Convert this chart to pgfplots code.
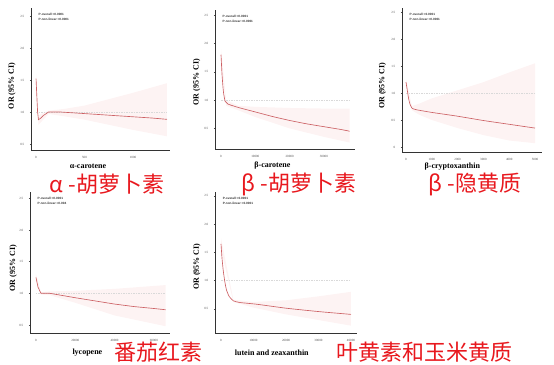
\documentclass[border=0pt]{standalone}
\usepackage{pgfplots}
\pgfplotsset{compat=1.18}
\usepackage{fontspec}
\setmainfont{Liberation Serif}
\newfontfamily\cjk{Noto Sans CJK SC}
\newfontfamily\psans{Liberation Sans}
\definecolor{curve}{RGB}{204,96,100}
\definecolor{band}{RGB}{253,243,243}
\definecolor{redlab}{RGB}{232,24,30}
\pgfplotsset{
 rcs/.style={
  scale only axis,
  axis lines=left,
  axis line style={-, draw=black!80, line width=0.35pt},
  tick align=outside,
  major tick length=1.2pt,
  tick style={draw=black!70, line width=0.3pt},
  tick label style={font=\fontsize{3.2}{3.6}\selectfont, text=black!70},
  /pgf/number format/assume math mode=true,
  scaled x ticks=false, scaled y ticks=false,
  ytick={0.5,1,1.5,2,2.5},
  yticklabels={0.5,1.0,1.5,2.0,2.5},
  yticklabel style={xshift=-2pt},
  xticklabel style={yshift=-1.5pt},
  label style={font=\fontsize{8}{9}\selectfont\bfseries},
  ylabel={OR (95\% CI)},
 },
 ciband/.style={draw=none, fill=band},
 rcsline/.style={curve, line width=0.65pt, smooth, tension=0.35},
 refline/.style={black!15, dash pattern=on 1.5pt off 1pt, line width=0.3pt},
}
\tikzset{pnode/.style={anchor=north west, font=\psans\bfseries\fontsize{3.1}{4.4}\selectfont, align=left, text=black!80}}
\begin{document}
\begin{tikzpicture}
\useasboundingbox (0pt,0pt) rectangle (554pt,364pt);
% ---------- panel 1: alpha-carotene
\begin{axis}[rcs, at={(31pt,214pt)}, anchor=south west, width=139pt, height=142pt,
  xmin=-52, xmax=1381, ymin=0.406, ymax=2.625,
  xtick={0,500,1000}, xticklabels={0,500,1000},
  xlabel={α-carotene},
  ylabel style={at={(axis description cs:-0.137,0.45)}, anchor=center},
  xlabel style={at={(axis description cs:0.41,-0.113)}, anchor=center}]
\addplot[ciband] coordinates {(0,1.6)(25,0.95)(130,1.02)(300,1.05)(500,1.1)(750,1.2)(1000,1.3)(1350,1.45)
 (1350,0.62)(1000,0.72)(750,0.8)(500,0.88)(300,0.93)(130,0.97)(25,0.8)(0,1.45)} -- cycle;
\addplot[refline] coordinates {(0,1)(1350,1)};
\addplot[curve, line width=0.65pt] coordinates {(0,1.52)(8,1.25)(16,1.0)(25,0.88)(45,0.9)(80,0.95)(130,1.0)(250,1.0)(500,0.975)(750,0.95)(1000,0.925)(1200,0.905)(1350,0.885)};
\node[pnode] at (rel axis cs:0.03,0.985) {P-overall <0.0001\\P-non-linear <0.0001};
\end{axis}
% ---------- panel 2: beta-carotene
\begin{axis}[rcs, at={(215pt,215pt)}, anchor=south west, width=140pt, height=139pt,
  xmin=-1750, xmax=39070, ymin=0.136, ymax=2.59,
  xtick={0,10000,20000,30000}, xticklabels={0,10000,20000,30000},
  xlabel={β-carotene},
  ylabel style={at={(axis description cs:-0.13,0.48)}, anchor=center},
  xlabel style={at={(axis description cs:0.41,-0.122)}, anchor=center}]
\addplot[ciband] coordinates {(0,1.9)(1500,1.0)(5000,0.9)(10000,0.88)(20000,0.86)(30000,0.85)(37500,0.85)
 (37500,0.25)(30000,0.35)(20000,0.5)(10000,0.7)(5000,0.82)(1500,0.9)(0,1.7)} -- cycle;
\addplot[refline] coordinates {(0,1)(37500,1)};
\addplot[rcsline] coordinates {(0,1.8)(300,1.45)(700,1.15)(1200,0.98)(2000,0.93)(5000,0.87)(10000,0.79)(15000,0.71)(20000,0.64)(25000,0.58)(30000,0.53)(35000,0.48)(37500,0.45)};
\node[pnode] at (rel axis cs:0.03,0.985) {P-overall <0.0001\\P-non-linear <0.0001};
\end{axis}
% ---------- panel 3: beta-cryptoxanthin
\begin{axis}[rcs, at={(402pt,212pt)}, anchor=south west, width=140pt, height=144pt,
  xmin=-155, xmax=5271, ymin=-0.093, ymax=2.574,
  ytick={0,0.5,1,1.5,2,2.5}, yticklabels={0,0.5,1.0,1.5,2.0,2.5},
  xtick={0,1000,2000,3000,4000,5000}, xticklabels={0,1000,2000,3000,4000,5000},
  xlabel={β-cryptoxanthin},
  ylabel style={at={(axis description cs:-0.14,0.46)}, anchor=center},
  xlabel style={at={(axis description cs:0.36,-0.1)}, anchor=center}]
\addplot[ciband] coordinates {(0,1.25)(230,0.76)(500,0.8)(1000,0.9)(2000,1.05)(3000,1.2)(4000,1.38)(5000,1.55)
 (5000,0.07)(4000,0.12)(3000,0.22)(2000,0.35)(1000,0.5)(500,0.6)(230,0.68)(0,1.15)} -- cycle;
\addplot[refline] coordinates {(0,1)(5000,1)};
\addplot[rcsline] coordinates {(0,1.2)(50,1.05)(100,0.9)(150,0.8)(230,0.72)(400,0.69)(1000,0.64)(2000,0.57)(3000,0.49)(4000,0.42)(5000,0.35)};
\node[pnode] at (rel axis cs:0.03,0.985) {P-overall <0.0001\\P-non-linear <0.0001};
\end{axis}
% ---------- panel 4: lycopene
\begin{axis}[rcs, at={(30pt,31pt)}, anchor=south west, width=140pt, height=141pt,
  xmin=-3050, xmax=68200, ymin=0.373, ymax=2.6,
  xtick={0,20000,40000,60000}, xticklabels={0,20000,40000,60000},
  xlabel={lycopene},
  ylabel style={at={(axis description cs:-0.12,0.46)}, anchor=center},
  xlabel style={at={(axis description cs:0.41,-0.14)}, anchor=center}]
\addplot[ciband] coordinates {(0,1.3)(2500,1.02)(7000,1.03)(20000,1.04)(40000,1.07)(66000,1.13)
 (66000,0.48)(40000,0.65)(20000,0.85)(7000,0.97)(2500,0.98)(0,1.2)} -- cycle;
\addplot[refline] coordinates {(0,1)(66000,1)};
\addplot[curve, line width=0.65pt] coordinates {(0,1.25)(1000,1.1)(2500,1.0)(7000,1.0)(20000,0.93)(30000,0.88)(40000,0.83)(50000,0.79)(60000,0.76)(66000,0.74)};
\node[pnode] at (rel axis cs:0.03,0.985) {P-overall <0.0001\\P-non-linear =0.004};
\end{axis}
% ---------- panel 5: lutein and zeaxanthin
\begin{axis}[rcs, at={(215pt,31pt)}, anchor=south west, width=142pt, height=141pt,
  xmin=-1850, xmax=41850, ymin=0.07, ymax=2.57,
  xtick={0,10000,20000,30000,40000}, xticklabels={0,10000,20000,30000,40000},
  xlabel={lutein and zeaxanthin},
  ylabel style={at={(axis description cs:-0.127,0.47)}, anchor=center},
  xlabel style={at={(axis description cs:0.40,-0.14)}, anchor=center}]
\addplot[ciband] coordinates {(0,1.75)(3800,0.66)(10000,0.62)(20000,0.65)(30000,0.72)(40000,0.8)
 (40000,0.2)(30000,0.3)(20000,0.4)(10000,0.52)(3800,0.62)(0,1.55)} -- cycle;
\addplot[refline] coordinates {(0,1)(40000,1)};
\addplot[rcsline] coordinates {(0,1.65)(300,1.4)(700,1.17)(1200,0.97)(1700,0.83)(2500,0.72)(3800,0.64)(5900,0.61)(11000,0.58)(20000,0.51)(30000,0.45)(40000,0.40)};
\node[pnode] at (rel axis cs:0.03,0.985) {P-overall <0.0001\\P-non-linear <0.0001};
\end{axis}
% ---------- red Chinese labels
\begin{scope}[every node/.style={text=redlab, font=\cjk\fontsize{22}{24}\selectfont, inner sep=0pt}]
\node at (107pt,180pt) {α -胡萝卜素};
\node at (299pt,180pt) {β -胡萝卜素};
\node at (475pt,180pt) {β -隐黄质};
\node at (158pt,12pt) {番茄红素};
\node at (424pt,12pt) {叶黄素和玉米黄质};
\end{scope}
\end{tikzpicture}
\end{document}
